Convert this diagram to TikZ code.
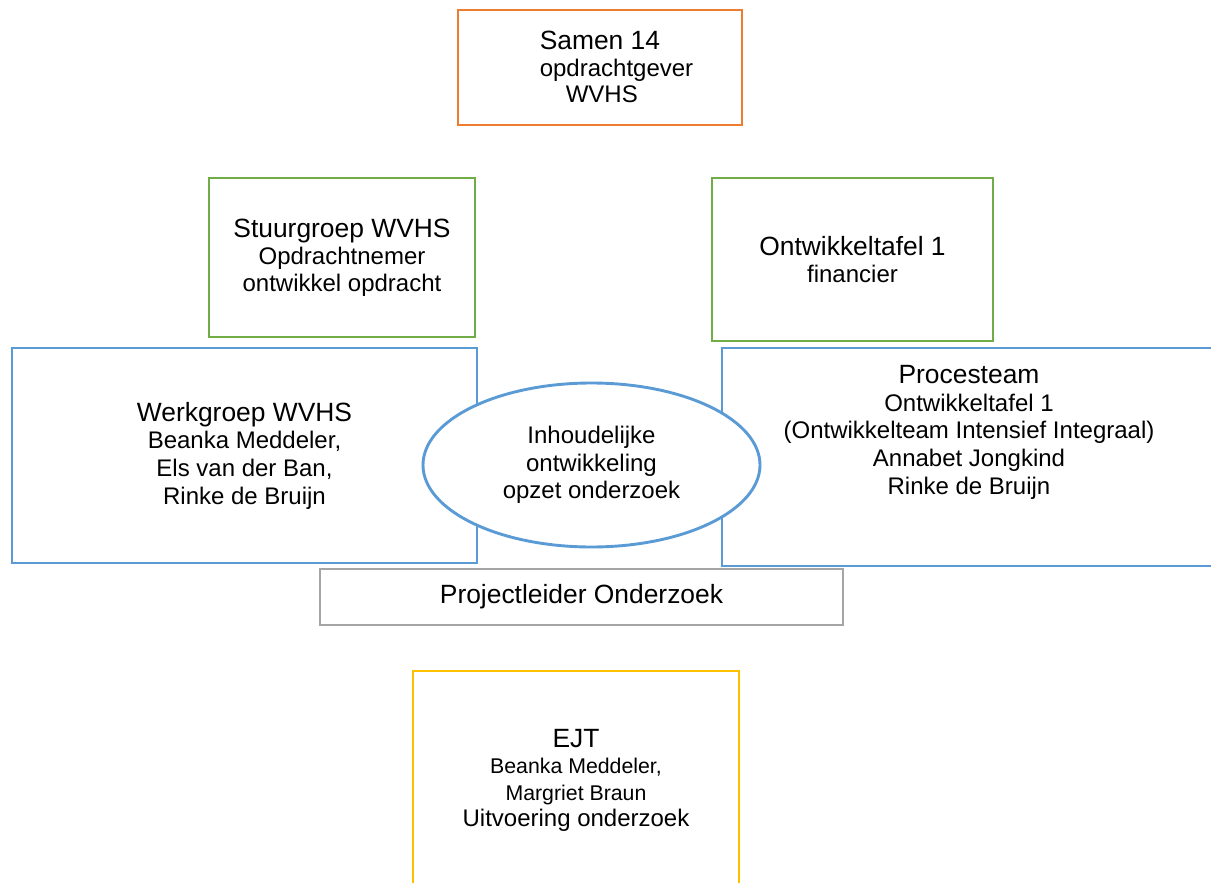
\documentclass[tikz,border=0pt]{standalone}
\usepackage{fontspec}
\setmainfont{Liberation Sans}
\usetikzlibrary{shapes.geometric}

\definecolor{samenorange}{HTML}{ED7D31}
\definecolor{stuurgreen}{HTML}{70AD47}
\definecolor{wvhsblue}{HTML}{5B9BD5}
\definecolor{leidergray}{HTML}{A5A5A5}
\definecolor{ejtgold}{HTML}{FFC000}
\newcommand{\ttl}[1]{{\fontsize{26.4}{27.7}\selectfont #1}}
\newcommand{\smallnm}[1]{{\fontsize{21.3}{26.3}\selectfont #1}}

\begin{document}
\begin{tikzpicture}[x=1pt,y=-1pt]
            \tikzstyle{box}=[rectangle, draw, line width=2.9pt, inner sep=0pt,
            align=center, font=\fontsize{24}{27.7}\selectfont]
            \tikzstyle{txt}=[inner sep=0pt, align=center,
            font=\fontsize{24}{27.7}\selectfont]
            \useasboundingbox (0,0) rectangle (1211,883);
            \clip (0,0) rectangle (1211,883);

            % top
            \node[box, draw=samenorange, minimum width=284pt,
            minimum height=115pt] (samen) at (600,67.5) {};
            \node[txt, align=left, font=\fontsize{24}{26.5}\selectfont]
            (samentxt) at (616.5,67) {\ttl{Samen 14}\\ opdrachtgever\\
            \hspace*{26pt}WVHS};

            % green row
            \node[box, draw=stuurgreen, minimum width=266pt,
            minimum height=159pt, font=\fontsize{24}{27}\selectfont]
            (stuur) at (342,257.5) {\ttl{Stuurgroep WVHS}\\ Opdrachtnemer\\
            ontwikkel opdracht};
            \node[box, draw=stuurgreen, minimum width=281pt,
            minimum height=163pt, font=\fontsize{24}{27}\selectfont]
            (tafel) at (852.5,259.5) {\ttl{Ontwikkeltafel 1}\\ financier};

            % blue row
            \node[box, draw=wvhsblue, minimum width=465pt,
            minimum height=215pt] (werk) at (244.5,455.5)
            {\ttl{Werkgroep WVHS}\\ Beanka Meddeler,\\ Els van der Ban,\\
            Rinke de Bruijn};
            \node[box, draw=wvhsblue, minimum width=494pt,
            minimum height=218pt] (proces) at (969,457) {};
            \node[txt] (procestxt) at (969,432.4) {\ttl{Procesteam}\\
            Ontwikkeltafel 1\\ (Ontwikkelteam Intensief Integraal)\\
            Annabet Jongkind\\ Rinke de Bruijn};
            \node[ellipse, draw=wvhsblue, fill=white, line width=2.9pt,
            inner sep=0pt, minimum width=337pt, minimum height=164pt,
            align=center, font=\fontsize{24}{27.7}\selectfont]
            (inhoud) at (591.5,465) {Inhoudelijke\\ ontwikkeling\\
            opzet onderzoek};

            % bottom
            \node[box, draw=leidergray, minimum width=523pt,
            minimum height=56pt] (leider) at (581.5,597)
            {\ttl{Projectleider Onderzoek}};
            \node[box, draw=ejtgold, minimum width=326pt,
            minimum height=221pt] (ejt) at (576,781.5) {};
            \node[txt, font=\fontsize{24}{26.3}\selectfont]
            (ejttxt) at (576,780.3) {\ttl{EJT}\\ \smallnm{Beanka Meddeler,}\\
            \smallnm{Margriet Braun}\\ Uitvoering onderzoek};
        \end{tikzpicture}
\end{document}
